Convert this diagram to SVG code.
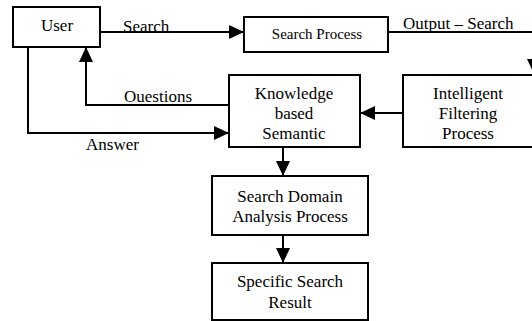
<svg xmlns="http://www.w3.org/2000/svg" width="532" height="321" viewBox="0 0 532 321">
<style>
.box{fill:#fff;stroke:#000;stroke-width:2}
.ln{fill:none;stroke:#000;stroke-width:2}
text{font-family:"Liberation Serif","Times New Roman",serif;font-size:17px;fill:#000}
.c{text-anchor:middle}
</style>
<defs>
<marker id="ah" markerWidth="15" markerHeight="14" refX="15" refY="7" orient="auto" markerUnits="userSpaceOnUse">
<path d="M0,0 L15,7 L0,14 Z" fill="#000"/>
</marker>
</defs>
<rect x="0" y="0" width="532" height="321" fill="#fff"/>
<g id="connectors">
<line class="ln" x1="100" y1="32" x2="244" y2="32" marker-end="url(#ah)"/>
<polyline class="ln" points="388,32 534,32 534,74" marker-end="url(#ah)"/>
<line class="ln" x1="403" y1="113" x2="360" y2="113" marker-end="url(#ah)"/>
<polyline class="ln" points="229,105 86,105 86,47" marker-end="url(#ah)"/>
<polyline class="ln" points="28,47 28,133 229,133" marker-end="url(#ah)"/>
<line class="ln" x1="283" y1="147" x2="283" y2="176" marker-end="url(#ah)"/>
<line class="ln" x1="283" y1="235" x2="283" y2="263" marker-end="url(#ah)"/>
<text x="123" y="32">Search</text>
<text x="403" y="29">Output – Search</text>
<text x="124" y="102">Ouestions</text>
<text x="86" y="150">Answer</text>
</g>
<g id="user">
<rect class="box" x="13" y="7" width="87" height="40"/>
<text class="c" x="57" y="31">User</text>
</g>
<g id="search-process">
<rect class="box" x="244" y="17" width="144" height="35"/>
<text class="c" x="317" y="39" style="font-size:15px">Search Process</text>
</g>
<g id="knowledge">
<rect class="box" x="229" y="75" width="131" height="72"/>
<text class="c" x="294" y="99">Knowledge</text>
<text class="c" x="294" y="119">based</text>
<text class="c" x="294" y="139">Semantic</text>
</g>
<g id="intelligent">
<rect class="box" x="403" y="75" width="133" height="72"/>
<text class="c" x="468" y="99">Intelligent</text>
<text class="c" x="468" y="119">Filtering</text>
<text class="c" x="468" y="139">Process</text>
</g>
<g id="search-domain">
<rect class="box" x="212" y="176" width="156" height="59"/>
<text class="c" x="290" y="202">Search Domain</text>
<text class="c" x="290" y="222">Analysis Process</text>
</g>
<g id="specific-result">
<rect class="box" x="212" y="263" width="156" height="57"/>
<text class="c" x="290" y="287">Specific Search</text>
<text class="c" x="290" y="308">Result</text>
</g>
</svg>
